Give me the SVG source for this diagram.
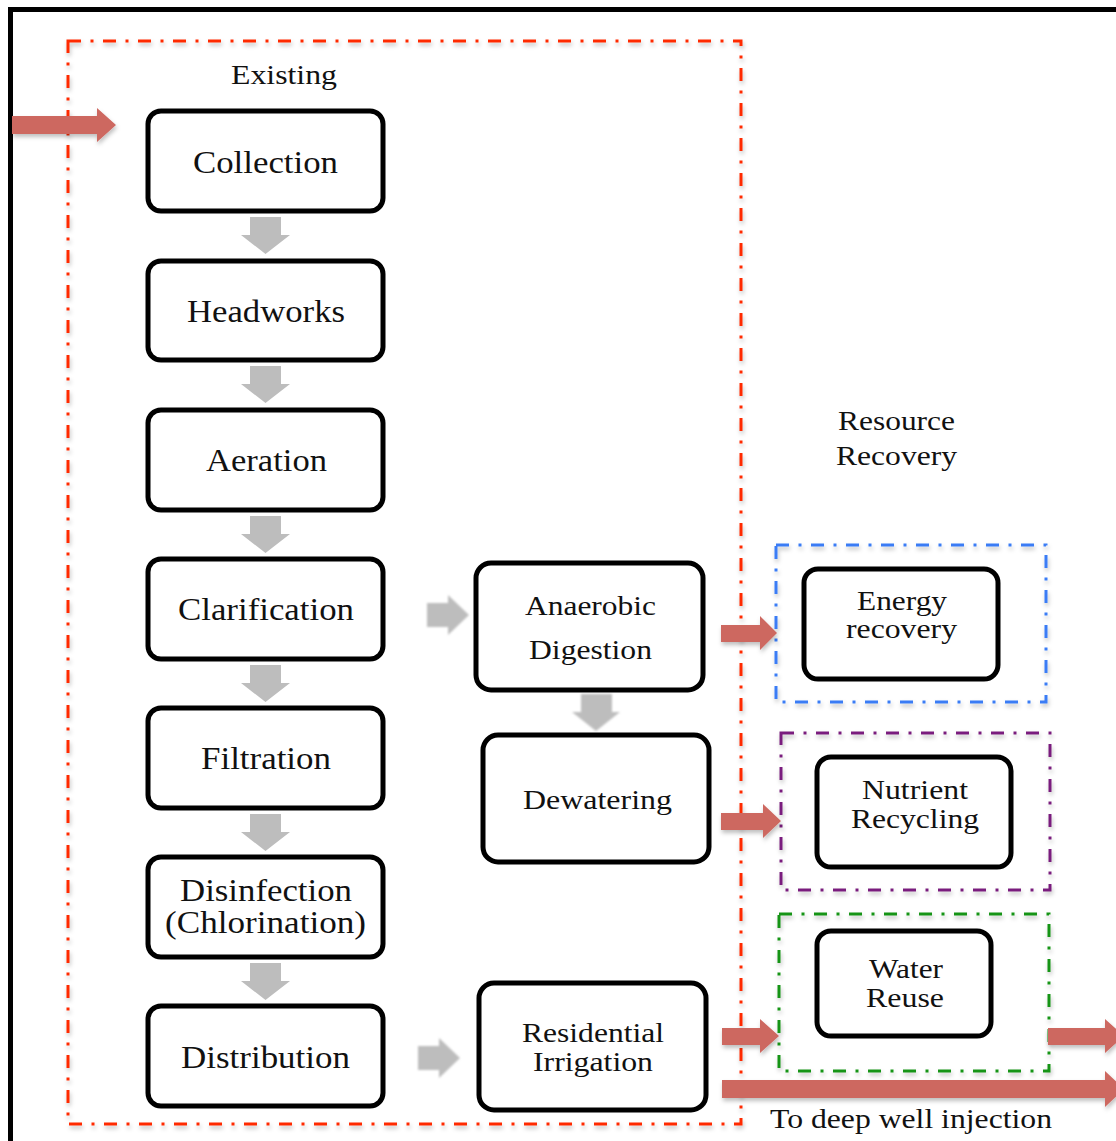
<svg xmlns="http://www.w3.org/2000/svg" width="1116" height="1141" viewBox="0 0 1116 1141">
<style>
.node{fill:#fff;stroke:#000;stroke-width:5}
.t{font-family:"Liberation Serif","Times New Roman",serif;fill:#111}
.big{font-size:31px}
.mid{font-size:28px}
.grp{fill:none;stroke-width:3;stroke-dasharray:13 9.5 3 9.5}
.ra{fill:#cd6760}
.ga{fill:#bdbdbd}
</style>
<defs>
<filter id="sh" x="-20%" y="-20%" width="140%" height="150%">
<feDropShadow dx="1" dy="3" stdDeviation="2" flood-color="#000" flood-opacity="0.25"/>
</filter>
<filter id="blur" x="-20%" y="-20%" width="140%" height="140%">
<feGaussianBlur stdDeviation="1.2"/>
</filter>
</defs>
<rect width="1116" height="1141" fill="#fff"/>
<path d="M10.5,1141 V9.5 H1116" fill="none" stroke="#000" stroke-width="5"/>

<g id="groups">
<rect id="existing-box" x="68" y="41" width="673" height="1083" class="grp" stroke="#ff2a00" filter="url(#sh)"/>
<rect id="energy-box" x="776" y="545" width="270" height="157" class="grp" stroke="#3b7cf5" filter="url(#sh)"/>
<rect id="nutrient-box" x="781" y="733" width="269" height="157" class="grp" stroke="#7a1e7e" filter="url(#sh)"/>
<rect id="water-box" x="779" y="914" width="270" height="157" class="grp" stroke="#139413" filter="url(#sh)"/>
<text class="t mid" x="231" y="84" textLength="106" lengthAdjust="spacingAndGlyphs">Existing</text>
<text class="t mid" x="838" y="430" textLength="117" lengthAdjust="spacingAndGlyphs">Resource</text>
<text class="t mid" x="836" y="465" textLength="121" lengthAdjust="spacingAndGlyphs">Recovery</text>
<text class="t mid" x="770" y="1128" textLength="282" lengthAdjust="spacingAndGlyphs">To deep well injection</text>
</g>

<g id="connectors">
<path class="ra" filter="url(#sh)" d="M12,116 H97 V108 L116,125 L97,142 V134 H12 Z"/>
<path class="ga" d="M250,217 H281 V235 H290 L265.5,254 L241,235 H250 Z"/>
<path class="ga" d="M250,366 H281 V384 H290 L265.5,403 L241,384 H250 Z"/>
<path class="ga" d="M250,516 H281 V534 H290 L265.5,553 L241,534 H250 Z"/>
<path class="ga" d="M250,665 H281 V683 H290 L265.5,702 L241,683 H250 Z"/>
<path class="ga" d="M250,814 H281 V832 H290 L265.5,851 L241,832 H250 Z"/>
<path class="ga" d="M250,963 H281 V981 H290 L265.5,1000 L241,981 H250 Z"/>
<path class="ga" filter="url(#blur)" d="M427,603 H448 V595 L469,615 L448,635 V627 H427 Z"/>
<path class="ga" filter="url(#blur)" d="M418,1046 H439 V1038 L460,1058 L439,1078 V1070 H418 Z"/>
<path class="ga" filter="url(#blur)" d="M581,694 H612 V712 H620 L596,731 L572,712 H581 Z"/>
<path class="ra" filter="url(#sh)" d="M721,625 H760 V616 L777,633 L760,650 V642 H721 Z"/>
<path class="ra" filter="url(#sh)" d="M721,813 H763 V804 L781,821 L763,838 V830 H721 Z"/>
<path class="ra" filter="url(#sh)" d="M722,1028 H760 V1019 L779,1036 L760,1053 V1045 H722 Z"/>
<path class="ra" filter="url(#sh)" d="M1048,1028 H1105 V1019 L1124,1036 L1105,1053 V1045 H1048 Z"/>
<path class="ra" filter="url(#sh)" d="M722,1080 H1105 V1071 L1124,1089 L1105,1107 V1098 H722 Z"/>
</g>

<g id="collection"><rect class="node" x="148" y="111" width="235" height="100" rx="13"/>
<text class="t big" x="193" y="173" textLength="145" lengthAdjust="spacingAndGlyphs">Collection</text></g>
<g id="headworks"><rect class="node" x="148" y="261" width="235" height="99" rx="13"/>
<text class="t big" x="187" y="322" textLength="158" lengthAdjust="spacingAndGlyphs">Headworks</text></g>
<g id="aeration"><rect class="node" x="148" y="410" width="235" height="100" rx="13"/>
<text class="t big" x="206" y="471" textLength="121" lengthAdjust="spacingAndGlyphs">Aeration</text></g>
<g id="clarification"><rect class="node" x="148" y="559" width="235" height="100" rx="13"/>
<text class="t big" x="178" y="620" textLength="176" lengthAdjust="spacingAndGlyphs">Clarification</text></g>
<g id="filtration"><rect class="node" x="148" y="708" width="235" height="100" rx="13"/>
<text class="t big" x="201" y="769" textLength="130" lengthAdjust="spacingAndGlyphs">Filtration</text></g>
<g id="disinfection"><rect class="node" x="148" y="857" width="235" height="100" rx="13"/>
<text class="t big" x="180" y="901" textLength="172" lengthAdjust="spacingAndGlyphs">Disinfection</text>
<text class="t big" x="165" y="933" textLength="201" lengthAdjust="spacingAndGlyphs">(Chlorination)</text></g>
<g id="distribution"><rect class="node" x="148" y="1006" width="235" height="100" rx="13"/>
<text class="t big" x="181" y="1068" textLength="169" lengthAdjust="spacingAndGlyphs">Distribution</text></g>

<g id="anaerobic-digestion"><rect class="node" x="476" y="563" width="227" height="127" rx="15"/>
<text class="t mid" x="525" y="615" textLength="131" lengthAdjust="spacingAndGlyphs">Anaerobic</text>
<text class="t mid" x="529" y="659" textLength="123" lengthAdjust="spacingAndGlyphs">Digestion</text></g>
<g id="dewatering"><rect class="node" x="483" y="735" width="226" height="127" rx="15"/>
<text class="t mid" x="523" y="809" textLength="149" lengthAdjust="spacingAndGlyphs">Dewatering</text></g>
<g id="residential-irrigation"><rect class="node" x="479" y="983" width="227" height="127" rx="15"/>
<text class="t mid" x="522" y="1042" textLength="142" lengthAdjust="spacingAndGlyphs">Residential</text>
<text class="t mid" x="533" y="1071" textLength="120" lengthAdjust="spacingAndGlyphs">Irrigation</text></g>

<g id="energy-recovery"><rect class="node" x="804" y="569" width="194" height="110" rx="14"/>
<text class="t mid" x="857" y="610" textLength="90" lengthAdjust="spacingAndGlyphs">Energy</text>
<text class="t mid" x="846" y="638" textLength="111" lengthAdjust="spacingAndGlyphs">recovery</text></g>
<g id="nutrient-recycling"><rect class="node" x="817" y="757" width="194" height="110" rx="14"/>
<text class="t mid" x="862" y="799" textLength="106" lengthAdjust="spacingAndGlyphs">Nutrient</text>
<text class="t mid" x="851" y="828" textLength="128" lengthAdjust="spacingAndGlyphs">Recycling</text></g>
<g id="water-reuse"><rect class="node" x="817" y="931" width="174" height="105" rx="14"/>
<text class="t mid" x="869" y="978" textLength="74" lengthAdjust="spacingAndGlyphs">Water</text>
<text class="t mid" x="866" y="1007" textLength="78" lengthAdjust="spacingAndGlyphs">Reuse</text></g>
</svg>
